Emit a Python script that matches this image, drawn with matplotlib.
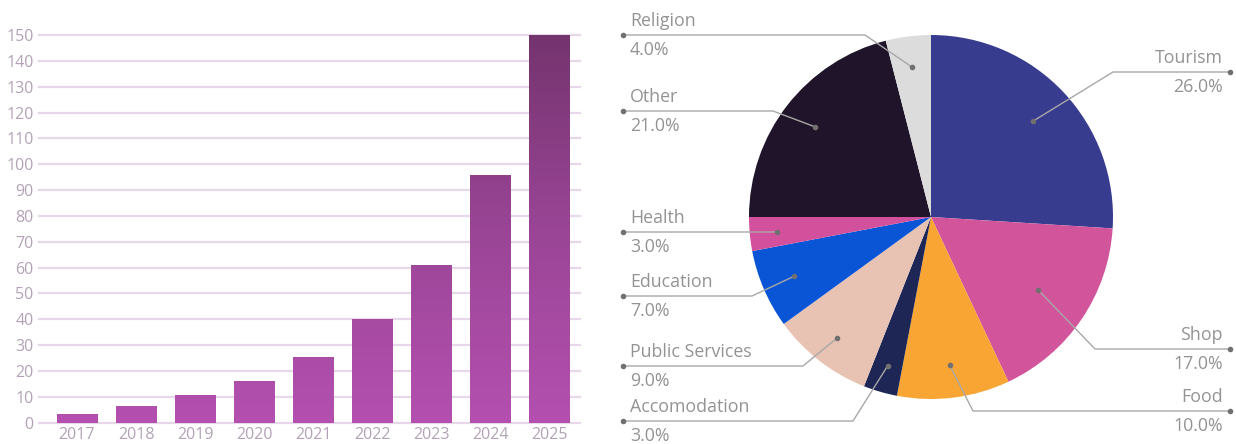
import numpy as np
import matplotlib
matplotlib.use("Agg")
import matplotlib.pyplot as plt
from matplotlib.colors import LinearSegmentedColormap

plt.rcParams["font.family"] = ["Open Sans", "DejaVu Sans"]

# ---- data ----
years = ["2017", "2018", "2019", "2020", "2021", "2022", "2023", "2024", "2025"]
counts = [3.3, 6.5, 10.7, 16, 25.5, 40, 61, 96, 150]
y_ticks = list(range(0, 151, 10))

sectors = ["Tourism", "Shop", "Food", "Accomodation", "Public Services",
           "Education", "Health", "Other", "Religion"]
shares = [26.0, 17.0, 10.0, 3.0, 9.0, 7.0, 3.0, 21.0, 4.0]
sector_colors = ["#383c8e", "#d2559b", "#f9a534", "#1e2656", "#e8c2b2",
                 "#0a55d6", "#d3509c", "#1f1429", "#dcdcdc"]

W, H = 1236, 444
fig = plt.figure(figsize=(W / 100, H / 100), dpi=100)

# ---------- bar chart ----------
ax = fig.add_axes([39 / W, (H - 422.7) / H, (580 - 39) / W, (422.7 - 35) / H])
x = np.arange(len(years))
bars = ax.bar(x, counts, width=0.69, color="none", edgecolor="none", zorder=3)

cmap = LinearSegmentedColormap.from_list("bar", ["#b450b0", "#9a4596", "#74346e"])
grad = np.linspace(0, 1, 256).reshape(-1, 1)
for b in bars:
    im = ax.imshow(grad, cmap=cmap, origin="lower", aspect="auto",
                   extent=(-0.644, 8.525, 0, 150), zorder=3)
    im.set_clip_path(b)
ax.set_xlim(-0.644, 8.525)
ax.set_ylim(0, 150)

for t in y_ticks:
    ax.axhline(t, color="#e6d8e8", lw=1.6, zorder=1, clip_on=False)
ax.set_yticks(y_ticks)
ax.set_xticks(x)
ax.set_xticklabels(years)
ax.tick_params(length=0, colors="#b3a2b6", labelsize=11.5)
ax.tick_params(axis="y", pad=4)
ax.tick_params(axis="x", pad=3)
for s in ax.spines.values():
    s.set_visible(False)

# ---------- pie chart ----------
CX, CY, R = 931, 217, 182
pax = fig.add_axes([(CX - R) / W, (H - CY - R) / H, 2 * R / W, 2 * R / H])
pax.pie(shares, colors=sector_colors, startangle=90, counterclock=False,
        radius=1, wedgeprops=dict(linewidth=0))
pax.set_xlim(-1, 1)
pax.set_ylim(-1, 1)
pax.set_aspect("equal")
pax.axis("off")


def px(xp, yp):
    return (xp - CX) / R, (CY - yp) / R


# label layout (pixel space): side, line y, elbow x, dot radius fraction
sides = ["r", "r", "r", "l", "l", "l", "l", "l", "l"]
line_y = [72, 349, 411, 421, 366, 296, 232, 111, 35]
elbow_x = [1113, 1095, 973, 853, 803, 752, 778, 773, 865]
dot_r = [0.77, 0.71, 0.82, 0.85, 0.84, 0.82, 0.85, 0.81, 0.83]

cum = 0.0
for name, v, side, ly, ex, dr in zip(sectors, shares, sides, line_y, elbow_x, dot_r):
    mid = np.deg2rad(90 - 360 * (cum + v / 2) / 100)
    cum += v
    dx, dy = dr * np.cos(mid), dr * np.sin(mid)
    end_px = 1230 if side == "r" else 623
    x0, y0 = px(end_px, ly)
    x1, _ = px(ex, ly)
    pax.plot([x0, x1, dx], [y0, y0, dy], color="#a8a8a8", lw=1.0,
             clip_on=False, zorder=5)
    pax.plot([x0, dx], [y0, dy], "o", ls="none", color="#707070", ms=3,
             clip_on=False, zorder=6)
    tx, _ = px(1223 if side == "r" else 630, ly)
    ha = "right" if side == "r" else "left"
    _, ty1 = px(0, ly - 14)
    _, ty2 = px(0, ly + 15)
    pax.text(tx, ty1, name, ha=ha, va="center", fontsize=12.8, color="#939393")
    pax.text(tx, ty2, f"{v:.1f}%", ha=ha, va="center", fontsize=12.8, color="#939393")

fig.savefig("out.png", dpi=100)
